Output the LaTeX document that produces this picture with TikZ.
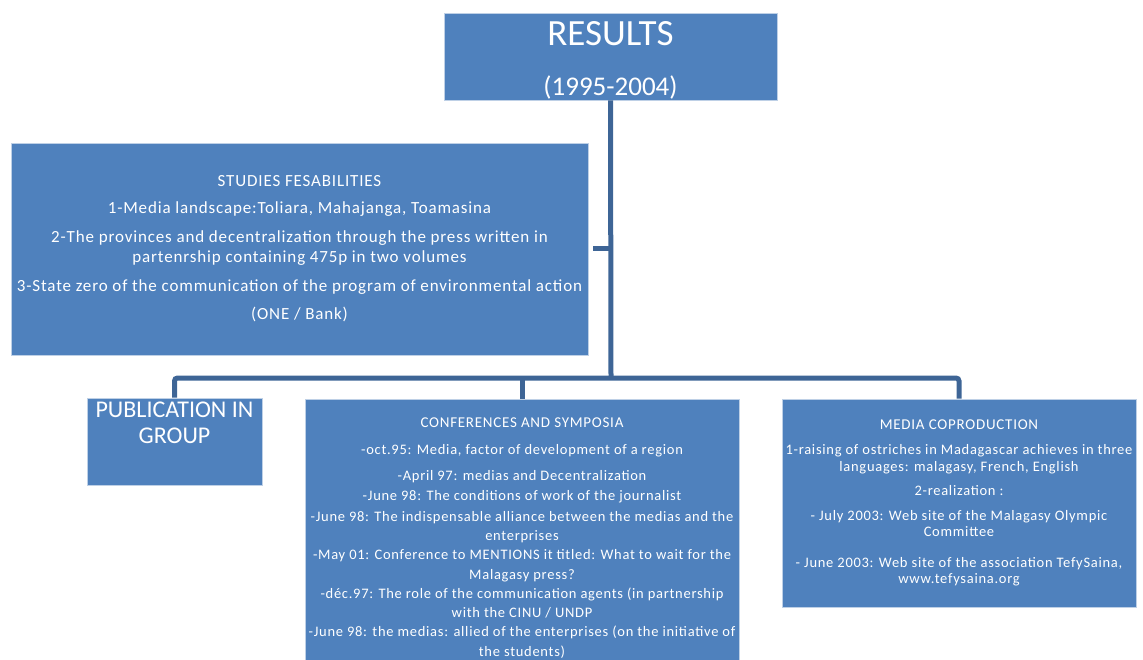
\documentclass[tikz,border=0pt]{standalone}
\usepackage{fontspec}
\setmainfont{Carlito}
\newfontfamily\spacedfont[LetterSpace=5]{Carlito}
\usetikzlibrary{positioning}
\definecolor{boxblue}{RGB}{79,129,189}
\definecolor{linkblue}{RGB}{62,101,150}
\definecolor{edgeblue}{RGB}{190,208,230}

\begin{document}
\begin{tikzpicture}[
  x=1pt,y=-1pt,
  box/.style={rectangle,draw=edgeblue,line width=0.6pt,fill=boxblue,text=white,
              align=center,inner sep=0pt},
  body/.style={font=\spacedfont\fontsize{14.5}{19.3}\selectfont},
  link/.style={draw=linkblue,line width=5pt,rounded corners=3pt}
]
\useasboundingbox (0,0) rectangle (1143,660);

% ---- top box ----
\node[box,minimum width=333,minimum height=87,text height=83pt,text depth=4pt]
  (results) at (610.5,56.5)
  {\fontsize{37}{40}\selectfont RESULTS\\[29pt]\fontsize{27}{30}\selectfont(1995-2004)};

% ---- studies ----
\node[box,minimum width=577,minimum height=212,
      font=\spacedfont\fontsize{17}{20}\selectfont] (studies) at (299.5,249)
  {STUDIES FESABILITIES\\[7pt]
   1-Media landscape:Toliara, Mahajanga, Toamasina\\[9pt]
   2-The provinces and decentralization through the press written in\\
   partenrship containing 475p in two volumes\\[9pt]
   3-State zero of the communication of the program of environmental action\\[8pt]
   (ONE / Bank)};

% ---- bottom row ----
\node[box,minimum width=175,minimum height=87,
      label={[text=white,align=center,anchor=north,yshift=-1pt,
              font=\fontsize{24}{26}\selectfont]north:PUBLICATION IN\\GROUP}]
  (pub) at (174.5,441.5) {};

\node[box,minimum width=434,minimum height=261,
      label={[text=white,align=center,anchor=north,yshift=-16pt,body]north:
        {\fontsize{15}{19}\selectfont CONFERENCES AND SYMPOSIA}\\[7pt]
        -oct.95: Media, factor of development of a region\\[7pt]
        -April 97: medias and Decentralization\\[1pt]
        -June 98: The conditions of work of the journalist\\[1pt]
        -June 98: The indispensable alliance between the medias and the\\
        enterprises\\
        -May 01: Conference to MENTIONS it titled: What to wait for the\\
        Malagasy press?\\
        -déc.97: The role of the communication agents (in partnership\\
        with the CINU / UNDP\\
        -June 98: the medias: allied of the enterprises (on the initiative of\\
        the students)}]
  (conf) at (522,529.5) {};

\node[box,minimum width=354,minimum height=208,
      font=\spacedfont\fontsize{14.5}{16.5}\selectfont] (media) at (959,503)
  {{\fontsize{15}{19}\selectfont MEDIA COPRODUCTION}\\[9pt]
   1-raising of ostriches in Madagascar achieves in three\\
   languages: malagasy, French, English\\[8pt]
   2-realization :\\[8pt]
   - July 2003: Web site of the Malagasy Olympic\\
   Committee\\[14pt]
   - June 2003: Web site of the association TefySaina,\\
   www.tefysaina.org};

% ---- connectors ----
\coordinate (hub) at (611,378);
\draw[link] (results.south) -- (hub);
\draw[link] (studies.east) ++(5,0) -- (studies.east -| hub);
\draw[link] (pub.north) |- (hub) -| (media.north);
\draw[link] (conf.north) -- (conf.north |- hub);

\end{tikzpicture}
\end{document}
